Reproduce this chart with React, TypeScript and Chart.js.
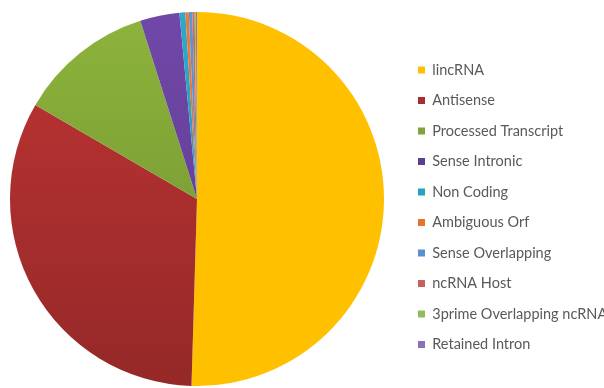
import React, { useEffect, useRef } from "react";
import { Chart, registerables } from "chart.js";

Chart.register(...registerables);

const categories = [
  "lincRNA",
  "Antisense",
  "Processed Transcript",
  "Sense Intronic",
  "Non Coding",
  "Ambiguous Orf",
  "Sense Overlapping",
  "ncRNA Host",
  "3prime Overlapping ncRNA",
  "Retained Intron",
];

const shares = [50.44, 32.9, 11.7, 3.4, 0.5, 0.3, 0.3, 0.2, 0.1, 0.1];

// top (light) and bottom (dark) shades of each slice
const lightColors = [
  "#FFC000",
  "#BF3434",
  "#8DB43C",
  "#7048A8",
  "#2FA8CE",
  "#EC7C30",
  "#5E95D6",
  "#D06A66",
  "#95C462",
  "#8F7ABD",
];
const darkColors = [
  "#FFC000",
  "#952828",
  "#6F8E2F",
  "#5C3A8E",
  "#238EB0",
  "#D86A22",
  "#4E82C2",
  "#B85552",
  "#7DAE4E",
  "#7864A6",
];
const legendColors = [
  "#FFC000",
  "#A82D2D",
  "#7FA23A",
  "#5E3E8E",
  "#2A9FC4",
  "#E5742A",
  "#5A8FD0",
  "#C8605E",
  "#8DBE5A",
  "#8872B5",
];

const FONT_FAMILY = "Lato";
const FONT_SIZE = 14.5;

export default function App() {
  const ref = useRef<HTMLCanvasElement | null>(null);

  useEffect(() => {
    document.body.style.margin = "0";
    const canvas = ref.current;
    if (!canvas) return;

    const mctx = document.createElement("canvas").getContext("2d")!;
    mctx.font = `${FONT_SIZE}px ${FONT_FAMILY}`;
    const textW = Math.max(...categories.map((c) => mctx.measureText(c).width));
    const pad = 16;
    const boxW = 7;
    const offL = 8;
    const legendLeftCanvas = 410;
    const legendW = pad + boxW + FONT_SIZE / 2 + textW + 10;
    const cw = Math.ceil(legendLeftCanvas + legendW);
    const rightPad = cw - (legendLeftCanvas + legendW);
    canvas.width = cw;
    canvas.height = 388;
    canvas.style.width = cw + "px";
    canvas.style.height = "388px";
    canvas.style.left = -offL + "px";

    const bg = (c: any) => {
      const i = c.dataIndex;
      const area = c.chart.chartArea;
      if (!area) return lightColors[i];
      const g = c.chart.ctx.createLinearGradient(0, area.top, 0, area.bottom);
      g.addColorStop(0, lightColors[i]);
      g.addColorStop(1, darkColors[i]);
      return g;
    };

    const chart = new Chart(canvas, {
      type: "pie",
      data: {
        labels: categories,
        datasets: [
          {
            data: shares,
            backgroundColor: bg,
            borderWidth: 0,
          },
        ],
      },
      options: {
        responsive: false,
        animation: false,
        layout: {
          padding: { left: 0, top: 12, bottom: 2, right: rightPad },
        },
        plugins: {
          tooltip: { enabled: false },
          legend: {
            position: "right",
            align: "center",
            title: {
              display: true,
              text: "",
              font: { size: 11 },
              padding: { top: 0, bottom: 3.3 },
            },
            labels: {
              boxWidth: boxW,
              boxHeight: 7,
              padding: pad,
              color: "#595959",
              font: { family: FONT_FAMILY, size: FONT_SIZE },
              generateLabels: (ch: any) =>
                categories.map((text, i) => ({
                  text,
                  fillStyle: legendColors[i],
                  strokeStyle: legendColors[i],
                  lineWidth: 0,
                  hidden: !ch.getDataVisibility(i),
                  index: i,
                  fontColor: "#595959",
                })),
            },
          },
        },
      },
    });
    return () => chart.destroy();
  }, []);

  return (
    <div
      style={{
        position: "absolute",
        left: 0,
        top: 0,
        width: 604,
        height: 388,
        overflow: "hidden",
        background: "#fff",
      }}
    >
      <canvas ref={ref} width={604} height={388} style={{ position: "absolute", top: 0, left: -8 }} />
    </div>
  );
}
